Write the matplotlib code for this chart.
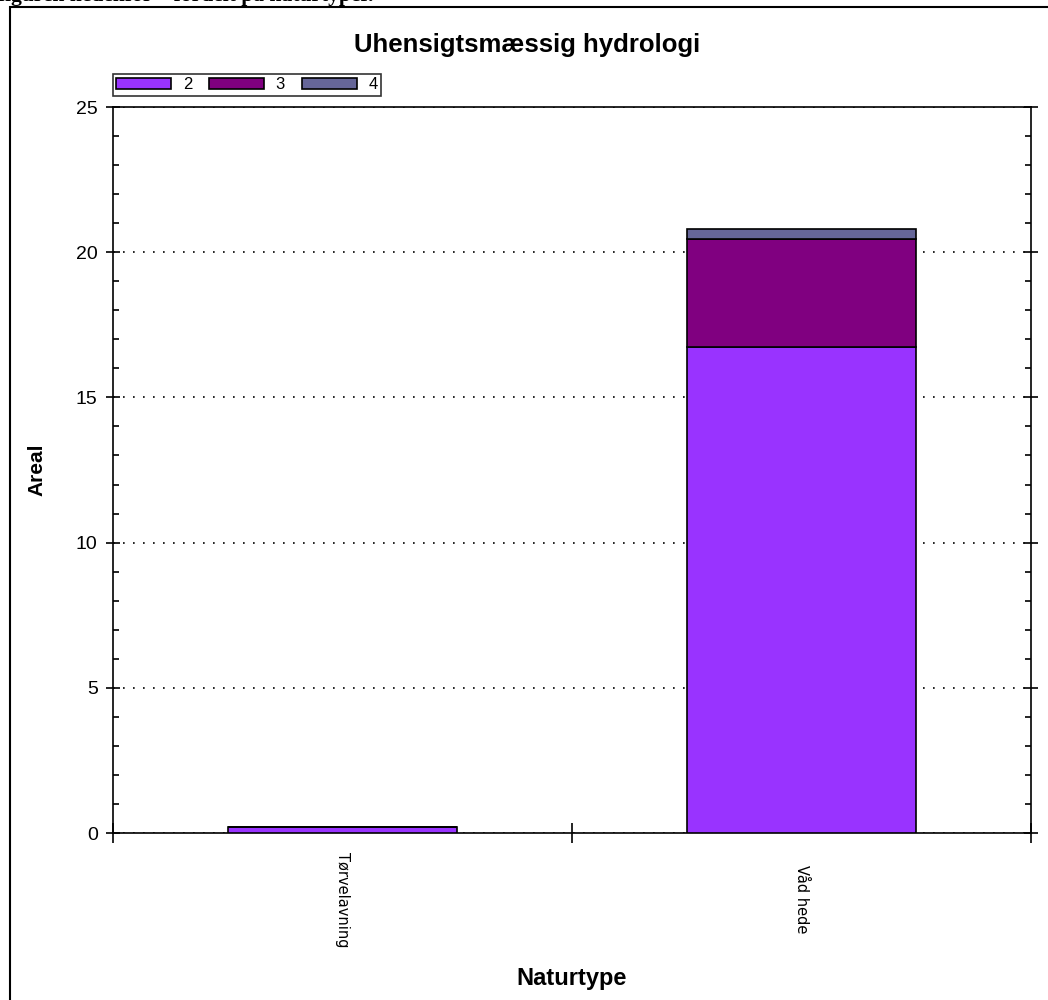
import matplotlib
matplotlib.use('Agg')
import matplotlib.pyplot as plt
from matplotlib.patches import Rectangle
from matplotlib.ticker import MultipleLocator, FixedLocator

# data
naturtyper = ['Tørvelavning', 'Våd hede']
serier = ['2', '3', '4']
vaerdi_2 = [0.22, 16.74]
vaerdi_3 = [0.0, 3.71]
vaerdi_4 = [0.0, 0.35]
farver = ['#9933ff', '#800080', '#666699']

plt.rcParams['font.family'] = ['Liberation Sans', 'DejaVu Sans']

fig = plt.figure(figsize=(10.48, 10), dpi=100)

# outer frame of the embedded picture + cut-off caption line above it
fig.patches.append(Rectangle((10 / 1048, -0.01), 1.1, 1.003, transform=fig.transFigure,
                             fill=False, edgecolor='black', linewidth=1.5))
fig.text(-0.002, 0.9985, 'figuren nedenfor – fordelt på naturtyper.', fontsize=15.5, fontweight='bold',
         family='Liberation Serif', ha='left', va='baseline')

ax = fig.add_axes([113 / 1048, 0.167, 918 / 1048, 0.726])

x = list(range(len(naturtyper)))
bund = [0.0] * len(x)
for navn, vals, farve in zip(serier, [vaerdi_2, vaerdi_3, vaerdi_4], farver):
    ax.bar(x, vals, width=0.5, bottom=bund, color=farve, edgecolor='black', linewidth=1.2,
           label=navn, zorder=3)
    bund = [b + v for b, v in zip(bund, vals)]

ax.set_xlim(-0.5, 1.5)
ax.set_ylim(0, 25)
ax.yaxis.set_major_locator(MultipleLocator(5))
ax.yaxis.set_minor_locator(MultipleLocator(1))
ax.tick_params(axis='y', which='major', direction='inout', length=10, right=True, labelsize=14,
               width=1.2, pad=6)
ax.tick_params(axis='y', which='minor', direction='in', length=4, right=True, left=True, width=1.2)
ax.set_yticks([0, 5, 10, 15, 20, 25])

ax.set_xticks(x)
ax.set_xticklabels(naturtyper, rotation=270, fontsize=10.5, family='DejaVu Sans', va='center')
ax.tick_params(axis='x', which='major', length=0, pad=48)
ax.xaxis.set_minor_locator(FixedLocator([-0.5, 0.5, 1.5]))
ax.tick_params(axis='x', which='minor', direction='inout', length=14, width=1.2)

for s in ax.spines.values():
    s.set_linewidth(1.2)
ax.grid(axis='y', which='major', linestyle=(0, (1, 5)), color='black', linewidth=1.2, zorder=1)

ax.set_ylabel('Areal', fontsize=15, fontweight='bold', labelpad=21)
ax.set_xlabel('Naturtype', fontsize=17, fontweight='bold')
ax.xaxis.set_label_coords(0.5, -0.184)
fig.text(0.503, 0.955, 'Uhensigtsmæssig hydrologi', fontsize=18.5, fontweight='bold', ha='center',
         va='center')

leg = fig.legend(loc='upper left', bbox_to_anchor=(113 / 1048, 0.926), ncol=3, fontsize=12,
                 frameon=True, fancybox=False, edgecolor='black', handlelength=3.3,
                 handleheight=0.7, handletextpad=0.7, columnspacing=1.0, borderpad=0.2,
                 borderaxespad=0)
leg.get_frame().set_linewidth(1.2)

fig.savefig('out.png', dpi=100)
